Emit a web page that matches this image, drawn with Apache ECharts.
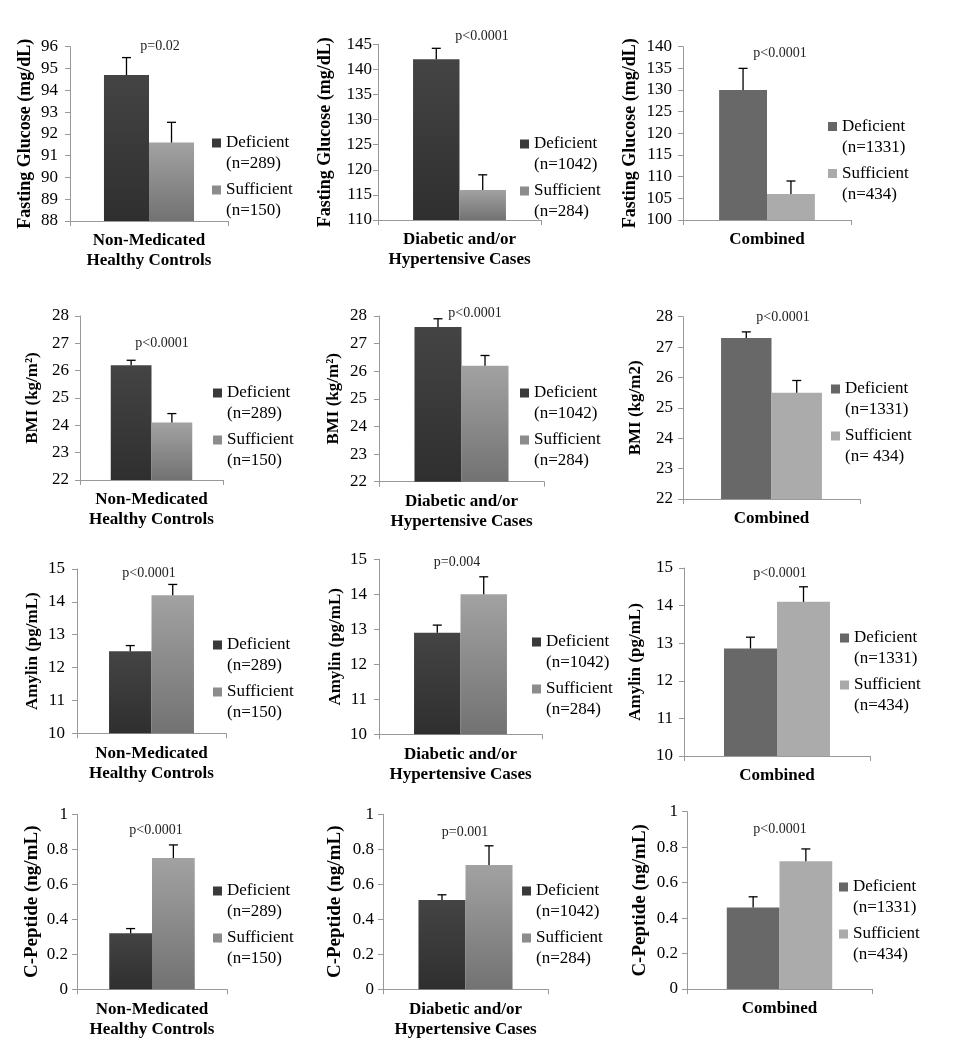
<!DOCTYPE html>
<html>
<head>
<meta charset="utf-8">
<script src="https://cdn.jsdelivr.net/npm/echarts@6/dist/echarts.min.js"></script>
<style>
  html, body { margin: 0; padding: 0; background: #fff; }
  #main { width: 956px; height: 1050px; }
</style>
</head>
<body>
<div id="main"></div>
<script>
// Data: rows = measure, columns = group
var groupNames = ['Non-Medicated\nHealthy Controls', 'Diabetic and/or\nHypertensive Cases', 'Combined'];
var measureNames = [
    ['Fasting Glucose (mg/dL)', 'Fasting Glucose (mg/dL)', 'Fasting Glucose (mg/dL)'],
    ['BMI (kg/m²)', 'BMI (kg/m²)', 'BMI (kg/m2)'],
    ['Amylin (pg/mL)', 'Amylin (pg/mL)', 'Amylin (pg/mL)'],
    ['C-Peptide (ng/mL)', 'C-Peptide (ng/mL)', 'C-Peptide (ng/mL)']
];
var deficientMean = [[94.7, 142, 130], [26.2, 27.6, 27.3], [12.5, 12.9, 12.86], [0.32, 0.51, 0.46]];
var deficientErr = [[0.8, 2.2, 5], [0.18, 0.3, 0.2], [0.17, 0.22, 0.3], [0.027, 0.03, 0.06]];
var sufficientMean = [[91.6, 116, 106], [24.1, 26.2, 25.5], [14.2, 14.0, 14.1], [0.75, 0.71, 0.72]];
var sufficientErr = [[0.93, 3, 3], [0.33, 0.37, 0.4], [0.33, 0.5, 0.4], [0.075, 0.11, 0.07]];
var pValues = [
    ['p=0.02', 'p<0.0001', 'p<0.0001'],
    ['p<0.0001', 'p<0.0001', 'p<0.0001'],
    ['p<0.0001', 'p=0.004', 'p<0.0001'],
    ['p<0.0001', 'p=0.001', 'p<0.0001']
];
var deficientLabels = [
    ['Deficient\n(n=289)', 'Deficient\n(n=1042)', 'Deficient\n(n=1331)'],
    ['Deficient\n(n=289)', 'Deficient\n(n=1042)', 'Deficient\n(n=1331)'],
    ['Deficient\n(n=289)', 'Deficient\n(n=1042)', 'Deficient\n(n=1331)'],
    ['Deficient\n(n=289)', 'Deficient\n(n=1042)', 'Deficient\n(n=1331)']
];
var sufficientLabels = [
    ['Sufficient\n(n=150)', 'Sufficient\n(n=284)', 'Sufficient\n(n=434)'],
    ['Sufficient\n(n=150)', 'Sufficient\n(n=284)', 'Sufficient\n(n= 434)'],
    ['Sufficient\n(n=150)', 'Sufficient\n(n=284)', 'Sufficient\n(n=434)'],
    ['Sufficient\n(n=150)', 'Sufficient\n(n=284)', 'Sufficient\n(n=434)']
];
var yMin = [[88, 110, 100], [22, 22, 22], [10, 10, 10], [0, 0, 0]];
var yMax = [[96, 145, 140], [28, 28, 28], [15, 15, 15], [1, 1, 1]];
var yStep = [[1, 5, 5], [1, 1, 1], [1, 1, 1], [0.2, 0.2, 0.2]];

// Layout of each panel: [left, top, width, height, nameGap, labelMargin]
var panelBox = [
    [[70, 46.7, 158, 174.3, 36, 12], [378, 44.3, 163, 175.7, 44, 6], [683, 46.7, 168, 173.3, 44, 11]],
    [[80, 316, 143, 164, 39, 11], [379, 316, 165, 165.7, 37, 12], [683, 316.7, 177, 182.3, 39, 10]],
    [[77, 569, 149, 164.3, 36, 12], [379, 559.3, 163, 175, 35, 12], [684, 568, 186, 188, 40, 11]],
    [[77, 814.3, 150, 175, 35, 9], [383, 814.3, 165, 175, 38, 9], [687, 811.7, 185, 177.3, 37, 9]]
];
var nameSize = [18, 17, 17, 19];
// p-value text centres [x, y]
var pBox = [
    [[160, 47], [482, 37], [780, 54]],
    [[162, 344], [475, 314], [783, 318]],
    [[149, 574], [457, 563], [780, 574]],
    [[156, 831], [465, 833], [780, 830]]
];
// legend anchor [left, top]
var legendBox = [
    [[212, 132.5], [520, 133.5], [828, 116]],
    [[213, 382.5], [520, 382.5], [831, 378.5]],
    [[213, 634.5], [532, 631.5], [840, 627.5]],
    [[213, 880.5], [522, 880.5], [839, 876.5]]
];

var FONT = 'Liberation Serif';
var BAR_FRAC = 0.285;

function gradient(top, bottom) {
    return new echarts.graphic.LinearGradient(0, 0, 0, 1, [
        { offset: 0, color: top },
        { offset: 1, color: bottom }
    ]);
}

var defColors = [gradient('#444444', '#2f2f2f'), gradient('#444444', '#2f2f2f'), '#686868'];
var sufColors = [gradient('#a2a2a2', '#727272'), gradient('#a2a2a2', '#727272'), '#ababab'];
var defIcon = ['#3a3a3a', '#3a3a3a', '#666666'];
var sufIcon = ['#8c8c8c', '#8c8c8c', '#aaaaaa'];

// upward-only error bar with a small cap, placed over the matching bar
function renderErr(params, api) {
    var base = api.coord([api.value(0), api.value(1)]);
    var top = api.coord([api.value(0), api.value(1) + api.value(2)]);
    var band = api.size([1, 0])[0];
    var x = base[0] + api.value(3) * band * BAR_FRAC / 2;
    var st = { stroke: '#000', lineWidth: 1.3 };
    return {
        type: 'group',
        children: [
            { type: 'line', shape: { x1: x, y1: base[1], x2: x, y2: top[1] }, style: st },
            { type: 'line', shape: { x1: x - 4.5, y1: top[1], x2: x + 4.5, y2: top[1] }, style: st }
        ]
    };
}

var grids = [], xAxes = [], yAxes = [], series = [], titles = [], legends = [];

for (var r = 0; r < 4; r++) {
    for (var c = 0; c < 3; c++) {
        var k = grids.length;
        var b = panelBox[r][c];
        grids.push({ left: b[0], top: b[1], width: b[2], height: b[3] });
        xAxes.push({
            type: 'category',
            gridIndex: k,
            data: [groupNames[c]],
            axisLine: { lineStyle: { color: '#999' } },
            axisTick: { show: true, length: 5, lineStyle: { color: '#999' } },
            axisLabel: {
                margin: 10, color: '#000', fontFamily: FONT, fontSize: 17,
                fontWeight: 'bold', lineHeight: 20
            }
        });
        yAxes.push({
            type: 'value',
            gridIndex: k,
            min: yMin[r][c], max: yMax[r][c], interval: yStep[r][c],
            name: measureNames[r][c],
            nameLocation: 'middle',
            nameRotate: 90,
            nameGap: b[4],
            nameTextStyle: { color: '#000', fontFamily: FONT, fontSize: nameSize[r], fontWeight: 'bold' },
            axisLine: { show: true, lineStyle: { color: '#999' } },
            axisTick: { show: true, length: 5, lineStyle: { color: '#999' } },
            splitLine: { show: false },
            axisLabel: { margin: b[5], color: '#000', fontFamily: FONT, fontSize: 17 }
        });
        series.push({
            type: 'bar', name: deficientLabels[r][c], xAxisIndex: k, yAxisIndex: k,
            barWidth: (BAR_FRAC * 100) + '%', barGap: '0%',
            itemStyle: { color: defColors[c] },
            data: [deficientMean[r][c]]
        });
        series.push({
            type: 'bar', name: sufficientLabels[r][c], xAxisIndex: k, yAxisIndex: k,
            barWidth: (BAR_FRAC * 100) + '%', barGap: '0%',
            itemStyle: { color: sufColors[c] },
            data: [sufficientMean[r][c]]
        });
        series.push({
            type: 'custom', name: 'err' + k, xAxisIndex: k, yAxisIndex: k, z: 5,
            renderItem: renderErr,
            data: [
                [0, deficientMean[r][c], deficientErr[r][c], -1],
                [0, sufficientMean[r][c], sufficientErr[r][c], 1]
            ]
        });
        titles.push({
            text: pValues[r][c],
            left: pBox[r][c][0], top: pBox[r][c][1] - 8,
            textAlign: 'center', padding: 0,
            textStyle: { fontFamily: FONT, fontSize: 14, fontWeight: 'normal', color: '#222' }
        });
        legends.push({
            orient: 'vertical',
            left: legendBox[r][c][0], top: legendBox[r][c][1],
            padding: 0, itemGap: 5,
            itemWidth: 9, itemHeight: 30,
            icon: 'path://M0,0h9v9h-9zM0,30h9',
            selectedMode: false,
            textStyle: { fontFamily: FONT, fontSize: 17, lineHeight: 21, color: '#000' },
            data: [
                { name: deficientLabels[r][c], itemStyle: { color: defIcon[c] } },
                { name: sufficientLabels[r][c], itemStyle: { color: sufIcon[c] } }
            ]
        });
    }
}

var chart = echarts.init(document.getElementById('main'));
chart.setOption({
    animation: false,
    backgroundColor: '#fff',
    title: titles,
    legend: legends,
    grid: grids,
    xAxis: xAxes,
    yAxis: yAxes,
    series: series
});
</script>
</body>
</html>
